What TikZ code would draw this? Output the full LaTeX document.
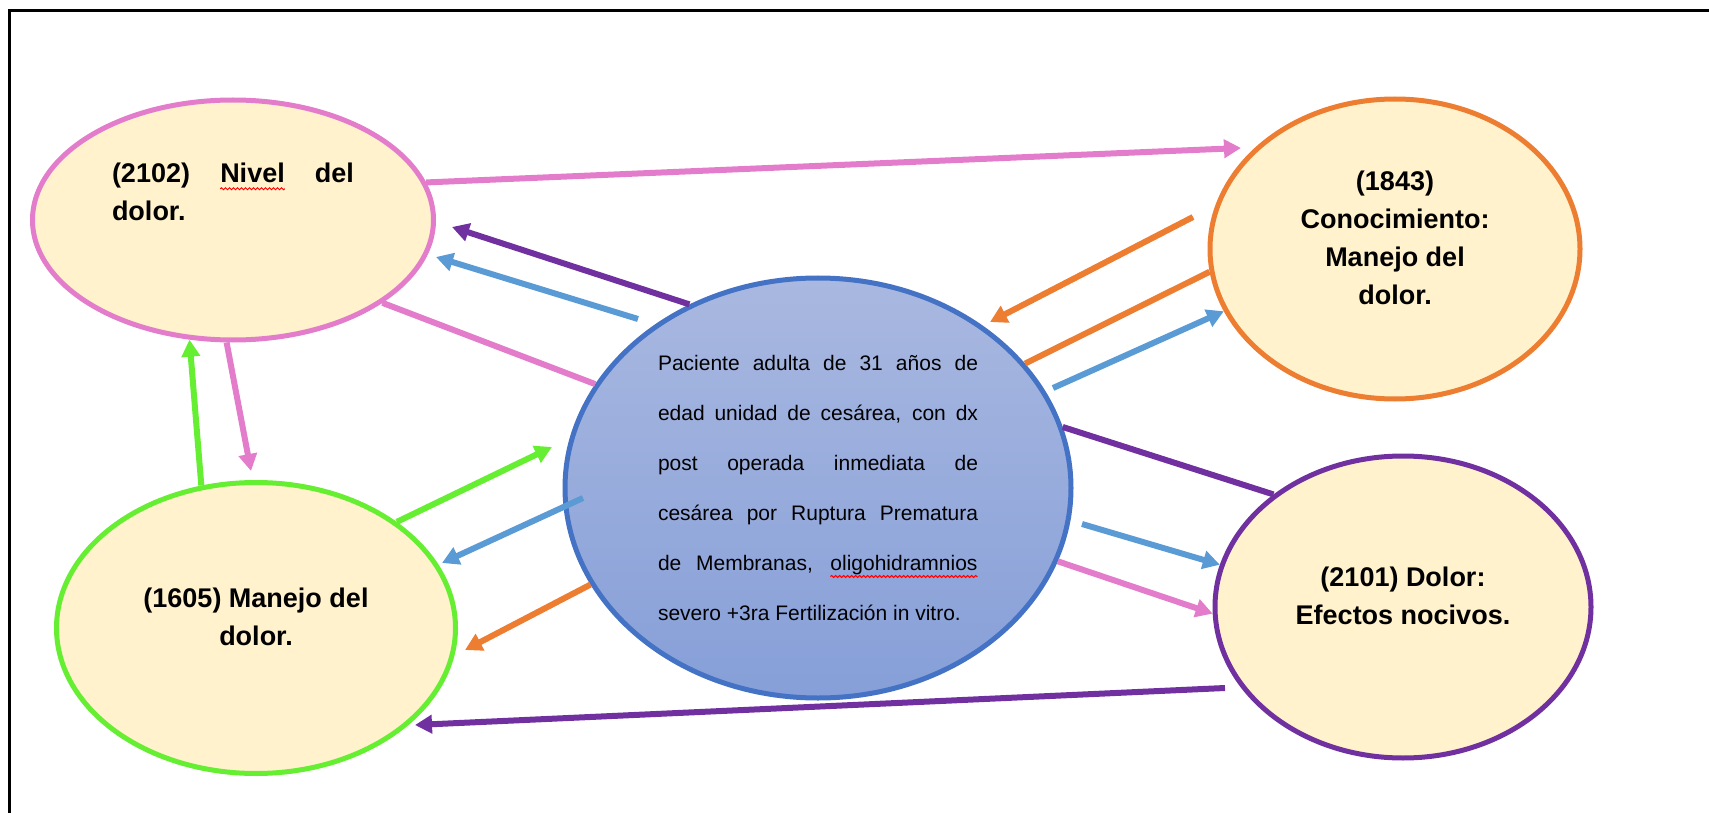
\documentclass[tikz,border=0pt]{standalone}
\usepackage{fontspec}
\setmainfont{Liberation Sans}
\usetikzlibrary{shapes.geometric, arrows.meta, decorations.pathmorphing}

\definecolor{crema}{HTML}{FFF2CC}
\definecolor{rosa}{HTML}{E27CCB}
\definecolor{naranja}{HTML}{ED7D31}
\definecolor{morado}{HTML}{7030A0}
\definecolor{verde}{HTML}{66EE33}
\definecolor{celeste}{HTML}{5B9BD5}
\definecolor{azulborde}{HTML}{4472C4}
\definecolor{azularriba}{HTML}{A9B8E0}
\definecolor{azulabajo}{HTML}{869FD8}

% subrayado ondulado rojo (corrector)
\newcommand\subrayado[1]{\tikz[baseline=(palabra.base)]{%
  \node[shape=rectangle, draw=none, fill=none, minimum width=0pt, minimum height=0pt,
        inner sep=0pt, outer sep=0pt, font={}] (palabra) {#1};
  \draw[red, line width=1pt, decorate, decoration={snake, amplitude=1pt, segment length=4pt}]
    ([yshift=-6pt]palabra.base west) -- ([yshift=-6pt]palabra.base east);}}

\begin{document}
\begin{tikzpicture}[
    x=1pt, y=-1pt,
    every node/.style={font=\bfseries\fontsize{27}{38}\selectfont},
    meta/.style={ellipse, draw, line width=5pt, fill=crema, inner sep=0pt, align=center},
    flecha/.style={line width=6pt, -{Triangle[length=17pt,width=18pt]}},
    linea/.style={line width=6pt}
  ]
  \useasboundingbox (0,0) rectangle (1709,813);

  % marco
  \draw[line width=3pt] (9,813) -- (9,11) -- (1709,11);

  % ---------------- Resultados ----------------
  % (la linea vacia final sube el texto dentro de la elipse)
  \node (nivel) [meta, draw=rosa, minimum width=401pt, minimum height=240pt] at (233,220)
    {\makebox[242pt][s]{(2102) \subrayado{Nivel} del}\\\makebox[242pt][l]{dolor.}\\[18pt]\mbox{}};
  \node (conoc) [meta, draw=naranja, minimum width=370pt, minimum height=300pt] at (1395,249)
    {(1843)\\Conocimiento:\\Manejo del\\dolor.\\[-16pt]\mbox{}};
  \node (dolor) [meta, draw=morado, minimum width=376pt, minimum height=302pt] at (1403,607)
    {(2101) Dolor:\\Efectos nocivos.\\[-16pt]\mbox{}};
  \node (manejo) [meta, draw=verde, minimum width=399pt, minimum height=291pt] at (256,628)
    {(1605) Manejo del\\dolor.\\[-16pt]\mbox{}};

  % ---------------- Paciente ----------------
  \node (centro) [ellipse, draw=azulborde, line width=5pt, top color=azularriba, bottom color=azulabajo,
      inner sep=0pt, align=left, minimum width=506pt, minimum height=420pt,
      font=\fontsize{21}{50}\selectfont] at (818,488) {
    \makebox[320pt][s]{Paciente adulta de 31 años de}\\
    \makebox[320pt][s]{edad unidad de cesárea, con dx}\\
    \makebox[320pt][s]{post operada inmediata de}\\
    \makebox[320pt][s]{cesárea por Ruptura Prematura}\\
    \makebox[320pt][s]{de Membranas, \subrayado{oligohidramnios}}\\
    \makebox[320pt][l]{severo +3ra Fertilización in vitro.}};

  % extremos sueltos de las flechas
  \coordinate (puntaRosaConoc) at (1241,148);
  \coordinate (puntaMoradoNivel) at (452,227);
  \coordinate (inicioAzulNivel) at (638,319);
  \coordinate (puntaAzulNivel) at (436,257);
  \coordinate (puntaRosaManejo) at (251,471);
  \coordinate (puntaVerdeCentro) at (552,447);
  \coordinate (inicioAzulManejo) at (583,498);
  \coordinate (puntaAzulManejo) at (442,563);
  \coordinate (puntaNaranjaManejo) at (465,650);
  \coordinate (inicioMoradoManejo) at (1225,688);
  \coordinate (puntaMoradoManejo) at (415,725);
  \coordinate (inicioNaranjaCentro) at (1193,217);
  \coordinate (puntaNaranjaCentro) at (990,322);
  \coordinate (inicioAzulConoc) at (1053,388);
  \coordinate (inicioAzulDolor) at (1082,524);

  % ---------------- Conexiones ----------------
  \draw[flecha, rosa] (nivel.11) -- (puntaRosaConoc);
  \draw[flecha, morado] (centro.125) -- (puntaMoradoNivel);
  \draw[flecha, celeste] (inicioAzulNivel) -- (puntaAzulNivel);
  \draw[linea, rosa] (nivel.-29) -- (centro.155);
  \draw[flecha, rosa] (nivel.-93) -- (puntaRosaManejo);
  \draw[flecha, verde] (manejo.111) -- (nivel.-110);
  \draw[flecha, verde] (manejo.37) -- (puntaVerdeCentro);
  \draw[flecha, celeste] (inicioAzulManejo) -- (puntaAzulManejo);
  \draw[flecha, naranja] (centro.203) -- (puntaNaranjaManejo);
  \draw[flecha, morado] (inicioMoradoManejo) -- (puntaMoradoManejo);
  \draw[flecha, naranja] (inicioNaranjaCentro) -- (puntaNaranjaCentro);
  \draw[linea, naranja] (conoc.187) -- (centro.31);
  \draw[flecha, celeste] (inicioAzulConoc) -- (conoc.200);
  \draw[linea, morado] (centro.14) -- (dolor.139);
  \draw[flecha, celeste] (inicioAzulDolor) -- (dolor.167);
  \draw[flecha, rosa] (centro.-17) -- (dolor.182);

\end{tikzpicture}
\end{document}
